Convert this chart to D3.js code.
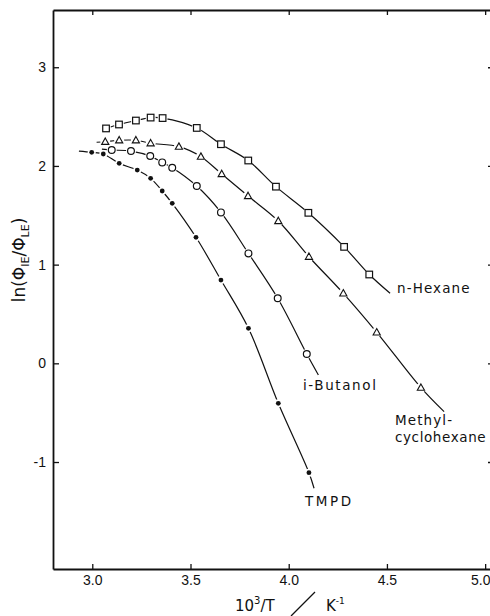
<!DOCTYPE html>
<html>
<head>
<meta charset="utf-8">
<script src="https://cdn.jsdelivr.net/npm/d3@7"></script>
<style>
html,body{margin:0;padding:0;background:#fff;}
svg{display:block;}
</style>
</head>
<body>
<svg id="chart" width="490" height="616"></svg>
<script>
// ---- data ----
const xTicks = [3.0, 3.5, 4.0, 4.5, 5.0];
const yTicks = [-1, 0, 1, 2, 3];

const hexaneX = [3.070, 3.136, 3.222, 3.297, 3.358, 3.532, 3.655, 3.794, 3.935, 4.100, 4.282, 4.410];
const hexaneY = [2.380, 2.420, 2.460, 2.490, 2.485, 2.385, 2.220, 2.055, 1.790, 1.525, 1.180, 0.900];
const hexaneLineStart = [3.070, 2.380];
const hexaneLineEnd = [4.516, 0.710];

const mchX = [3.066, 3.137, 3.222, 3.297, 3.441, 3.553, 3.659, 3.793, 3.947, 4.103, 4.278, 4.448, 4.673];
const mchY = [2.245, 2.260, 2.260, 2.230, 2.195, 2.094, 1.918, 1.695, 1.442, 1.080, 0.709, 0.314, -0.247];
const mchLineStart = [3.022, 2.240];
const mchLineEnd = [4.791, -0.490];

const butanolX = [3.099, 3.197, 3.295, 3.356, 3.407, 3.532, 3.655, 3.795, 3.944, 4.092];
const butanolY = [2.161, 2.151, 2.100, 2.036, 1.982, 1.796, 1.529, 1.114, 0.659, 0.094];
const butanolLineStart = [3.049, 2.170];
const butanolLineEnd = [4.151, -0.118];

const tmpdX = [2.997, 3.056, 3.137, 3.229, 3.297, 3.356, 3.407, 3.528, 3.655, 3.795, 3.947, 4.103];
const tmpdY = [2.138, 2.121, 2.026, 1.958, 1.874, 1.746, 1.621, 1.277, 0.844, 0.355, -0.405, -1.108];
const tmpdLineStart = [2.932, 2.150];
const tmpdLineEnd = [4.129, -1.266];

const seriesNames = ["n-Hexane", "Methyl-cyclohexane", "i-Butanol", "TMPD"];

// ---- layout ----
const svg = d3.select("#chart");
const L = 53, R = 493, T = 10, B = 569;
const x = d3.scaleLinear().domain([2.8, 5.04]).range([L, R]);
const y = d3.scaleLinear().domain([-2.084, 3.58]).range([B, T]);

const ink = "#111";

// axes
const fmt = d3.format(".1f");
const gB = svg.append("g").attr("transform", `translate(0,${B})`)
  .call(d3.axisBottom(x).tickValues(xTicks).tickSizeInner(-5).tickSizeOuter(0).tickPadding(6).tickFormat(fmt));
const gT = svg.append("g").attr("transform", `translate(0,${T})`)
  .call(d3.axisTop(x).tickValues(xTicks).tickSizeInner(-5).tickSizeOuter(0).tickFormat(""));
const gL = svg.append("g").attr("transform", `translate(${L},0)`)
  .call(d3.axisLeft(y).tickValues(yTicks).tickSizeInner(-6).tickSizeOuter(0).tickPadding(7).tickFormat(d3.format("d")));
const gR = svg.append("g").attr("transform", `translate(${R},0)`)
  .call(d3.axisRight(y).tickValues(yTicks).tickSizeInner(-5).tickSizeOuter(0).tickFormat(""));

[gB, gT, gL, gR].forEach(g => {
  g.select(".domain").attr("stroke", ink).attr("stroke-width", 1.8);
  g.selectAll(".tick line").attr("stroke", ink).attr("stroke-width", 1.3);
  g.selectAll(".tick text").attr("fill", ink)
    .style("font-family", "'Liberation Sans', Arial, sans-serif").style("font-size", "14px");
});
gL.selectAll(".tick text").text(d => d < 0 ? "-" + Math.abs(d) : d);
// keep the last bottom label inside the picture
gB.selectAll(".tick text").filter(d => d === 5.0).attr("text-anchor", "end").attr("x", 490 - x(5.0));

// series
const line = d3.line().x(d => x(d[0])).y(d => y(d[1])).curve(d3.curveCatmullRom.alpha(0.5));

function drawSeries(xs, ys, start, end, kind) {
  const pts = xs.map((v, i) => [v, ys[i]]);
  let path = pts.slice();
  if (start[0] < pts[0][0] - 1e-6) path.unshift(start);
  path.push(end);
  svg.append("path").datum(path).attr("d", line)
    .attr("fill", "none").attr("stroke", ink).attr("stroke-width", 1.2);
  const g = svg.append("g");
  const halo = kind === "dot" ? 4 : 5;
  g.selectAll("circle.halo").data(pts).join("circle").attr("class", "halo")
    .attr("cx", d => x(d[0])).attr("cy", d => y(d[1])).attr("r", halo).attr("fill", "#fff");
  if (kind === "square") {
    g.selectAll("rect.m").data(pts).join("rect").attr("class", "m")
      .attr("x", d => x(d[0]) - 3.3).attr("y", d => y(d[1]) - 3.3)
      .attr("width", 6.6).attr("height", 6.6)
      .attr("fill", "#fff").attr("stroke", ink).attr("stroke-width", 1.2);
  } else if (kind === "triangle") {
    g.selectAll("path.m").data(pts).join("path").attr("class", "m")
      .attr("d", d => { const cx = x(d[0]), cy = y(d[1]);
        return `M${cx},${cy - 3.8}L${cx + 3.6},${cy + 2.6}L${cx - 3.6},${cy + 2.6}Z`; })
      .attr("fill", "#fff").attr("stroke", ink).attr("stroke-width", 1.1);
  } else if (kind === "circle") {
    g.selectAll("circle.m").data(pts).join("circle").attr("class", "m")
      .attr("cx", d => x(d[0])).attr("cy", d => y(d[1])).attr("r", 3.4)
      .attr("fill", "#fff").attr("stroke", ink).attr("stroke-width", 1.2);
  } else {
    g.selectAll("circle.m").data(pts).join("circle").attr("class", "m")
      .attr("cx", d => x(d[0])).attr("cy", d => y(d[1])).attr("r", 2.4)
      .attr("fill", ink);
  }
}

drawSeries(hexaneX, hexaneY, hexaneLineStart, hexaneLineEnd, "square");
drawSeries(mchX, mchY, mchLineStart, mchLineEnd, "triangle");
drawSeries(butanolX, butanolY, butanolLineStart, butanolLineEnd, "circle");
drawSeries(tmpdX, tmpdY, tmpdLineStart, tmpdLineEnd, "dot");

// series labels
const labFont = "'DejaVu Sans', sans-serif";
function label(txt, px, py, ls) {
  svg.append("text").attr("x", px).attr("y", py).text(txt)
    .attr("fill", ink).style("font-family", labFont).style("font-size", "13.5px")
    .style("letter-spacing", ls + "px");
}
label(seriesNames[0], 397, 293, 1.1);
label(seriesNames[2], 303, 390, 1.6);
label("Methyl-", 395, 425, 1.1);
label("cyclohexane", 395, 442, 0.6);
label(seriesNames[3], 305, 506, 2.6);

// y axis title
const yt = svg.append("text")
  .attr("transform", "translate(25,260) rotate(-90)")
  .attr("text-anchor", "middle")
  .attr("fill", ink).style("font-family", labFont).style("font-size", "17px");
yt.append("tspan").text("ln(\u03A6");
yt.append("tspan").text("IE").attr("dy", 4).style("font-size", "11px");
yt.append("tspan").text("/\u03A6").attr("dy", -4);
yt.append("tspan").text("LE").attr("dy", 4).style("font-size", "11px");
yt.append("tspan").text(")").attr("dy", -4);

// x axis title
const xt = svg.append("text").attr("x", 235).attr("y", 611)
  .attr("fill", ink).style("font-family", labFont).style("font-size", "15px");
xt.append("tspan").text("10");
xt.append("tspan").text("3").attr("dy", -7).style("font-size", "10px");
xt.append("tspan").text("/T").attr("dy", 7);
svg.append("line").attr("x1", 291).attr("y1", 616).attr("x2", 315).attr("y2", 592)
  .attr("stroke", ink).attr("stroke-width", 1.3);
const kt = svg.append("text").attr("x", 326).attr("y", 611)
  .attr("fill", ink).style("font-family", labFont).style("font-size", "15px");
kt.append("tspan").text("K");
kt.append("tspan").text("-1").attr("dy", -7).style("font-size", "9px");
</script>
</body>
</html>
